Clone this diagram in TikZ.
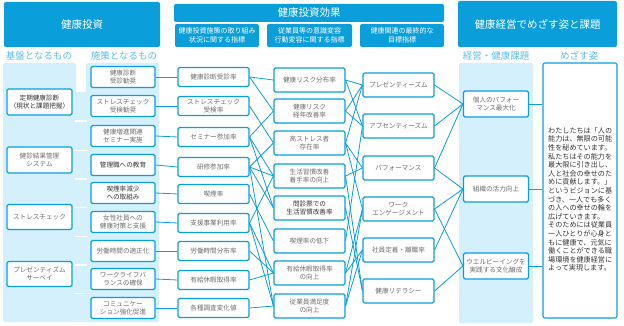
\documentclass[tikz,border=0pt]{standalone}
\usepackage{fontspec}
\newfontfamily\cjk{Noto Sans CJK JP}
\definecolor{hblue}{HTML}{0A9FDB}
\definecolor{lblue}{HTML}{D4F0FC}
\definecolor{tgray}{HTML}{6E6E6E}
\definecolor{tdark}{HTML}{333333}
\definecolor{lbltxt}{HTML}{5CBDE8}
\begin{document}
\begin{tikzpicture}[x=1pt,y=-1pt,
  box/.style={draw=hblue, line width=1.1pt, rounded corners=1.5pt, fill=white, text=tgray,
    font=\cjk\fontsize{6.6}{8.2}\selectfont, align=center, inner sep=0pt},
  dk/.style={text=tdark},
  bcol/.style={box, minimum width=65pt, minimum height=26pt},
  scol/.style={box, minimum width=64pt, minimum height=21pt},
  icol/.style={box, minimum width=71pt, minimum height=19pt},
  mcol/.style={box, minimum width=71pt, minimum height=24pt},
  ccol/.style={box, minimum width=71pt, minimum height=24pt},
  kcol/.style={box, minimum width=65pt, minimum height=26pt},
  hdr/.style={fill=hblue, rounded corners=2pt, text=white, align=center, inner sep=0pt},
  lbl/.style={text=lbltxt, font=\cjk\fontsize{9.5}{11}\selectfont, inner sep=0pt},
  link/.style={draw=hblue, line width=0.8pt}]
\useasboundingbox (0,0) rectangle (624,326);

% headers
\node[hdr, minimum width=156pt, minimum height=45pt, font=\cjk\fontsize{10.5}{12}\selectfont] (h1) at (82,24.5) {健康投資};
\node[hdr, minimum width=270pt, minimum height=18pt, font=\cjk\fontsize{10.5}{12}\selectfont] (h2) at (309,13) {健康投資効果};
\node[hdr, minimum width=84pt, minimum height=23pt, font=\cjk\fontsize{7}{8.8}\selectfont] (h2a) at (217,35.5) {健康投資施策の取り組み\\状況に関する指標};
\node[hdr, minimum width=85pt, minimum height=23pt, font=\cjk\fontsize{7}{8.8}\selectfont] (h2b) at (309.5,35.5) {従業員等の意識変容\\行動変容に関する指標};
\node[hdr, minimum width=84pt, minimum height=23pt, font=\cjk\fontsize{7}{8.8}\selectfont] (h2c) at (402,35.5) {健康関連の最終的な\\目標指標};
\node[hdr, minimum width=159pt, minimum height=46pt, font=\cjk\fontsize{10.5}{12}\selectfont] (h3) at (537.5,24) {健康経営でめざす姿と課題};

% labels
\node[lbl] (l1) at (39,56) {基盤となるもの};
\node[lbl] (l2) at (124,56) {施策となるもの};
\node[lbl] (l3) at (496,56) {経営・健康課題};
\node[lbl] (l4) at (579,56) {めざす姿};

% panels
\fill[lblue, rounded corners=2pt] (3,63) rectangle (76,322);
\fill[lblue, rounded corners=2pt] (86,63) rectangle (159,322);
\fill[lblue] (75,92) rectangle (87,322);
\foreach \yy in {121,150.5,179,207.5,236.5,265,293.5}
  \draw[white, line width=1.5pt] (75,\yy) -- (87,\yy);
\fill[lblue, rounded corners=2pt] (459,63) rectangle (533,323);

% base nodes
\node[bcol, dk] (b1) at (39.5,102) {定期健康診断\\（現状と課題把握）};
\node[bcol] (b2) at (39.5,160) {健診結果管理\\システム};
\node[bcol, minimum height=25pt] (b3) at (39.5,217) {ストレスチェック};
\node[bcol, minimum height=25pt] (b4) at (39.5,274) {プレゼンティズム\\サーベイ};

% measures
\node[scol] (s1) at (123,77) {健康診断\\受診勧奨};
\node[scol] (s2) at (123,106) {ストレスチェック\\受検勧奨};
\node[scol] (s3) at (123,136) {健康増進関連\\セミナー実施};
\node[scol, dk] (s4) at (123,165) {管理職への教育};
\node[scol, dk] (s5) at (123,193) {喫煙率減少\\への取組み};
\node[scol] (s6) at (123,222) {女性社員への\\健康対策と支援};
\node[scol] (s7) at (123,251) {労働時間の適正化};
\node[scol] (s8) at (123,279) {ワークライフバ\\ランスの確保};
\node[scol] (s9) at (123,308) {コミュニケー\\ション強化促進};

% indices
\node[icol] (i1) at (213.5,77) {健康診断受診率};
\node[icol] (i2) at (213.5,106) {ストレスチェック\\受検率};
\node[icol] (i3) at (213.5,137) {セミナー参加率};
\node[icol] (i4) at (213.5,167) {研修参加率};
\node[icol] (i5) at (213.5,194) {喫煙率};
\node[icol] (i6) at (213.5,223) {支援事業利用率};
\node[icol] (i7) at (213.5,251) {労働時間分布率};
\node[icol] (i8) at (213.5,280) {有給休暇取得率};
\node[icol] (i9) at (213.5,308) {各種調査変化値};

% middle
\node[mcol] (m1) at (309.5,80) {健康リスク分布率};
\node[mcol] (m2) at (309.5,111) {健康リスク\\経年改善率};
\node[mcol] (m3) at (309.5,143) {高ストレス者\\存在率};
\node[mcol] (m4) at (309.5,176) {生活習慣改善\\着手率の向上};
\node[mcol, dk] (m5) at (309.5,208) {問診票での\\生活習慣改善率};
\node[mcol] (m6) at (309.5,241) {喫煙率の低下};
\node[mcol] (m7) at (309.5,273) {有給休暇取得率\\の向上};
\node[mcol] (m8) at (309.5,306) {従業員満足度\\の向上};

% final
\node[ccol] (c1) at (398.5,85) {プレゼンティーズム};
\node[ccol] (c2) at (398.5,126) {アブセンティーズム};
\node[ccol] (c3) at (398.5,168) {パフォーマンス};
\node[ccol] (c4) at (398.5,209) {ワーク\\エンゲージメント};
\node[ccol] (c5) at (398.5,250) {社員定着・離職率};
\node[ccol] (c6) at (398.5,291) {健康リテラシー};

% issues
\node[kcol] (k1) at (496,104) {個人のパフォー\\マンス最大化};
\node[kcol] (k2) at (496,189) {組織の活力向上};
\node[kcol] (k3) at (496,266) {ウエルビーイングを\\実践する文化醸成};

% vision
\node[draw=hblue, line width=1.1pt, rounded corners=2pt, minimum width=74pt, minimum height=255pt, inner sep=0pt] (vis) at (580,190.5) {};
\node[text=tdark, font=\cjk\fontsize{7.1}{8.6}\selectfont, align=left, inner sep=0pt, anchor=north west] (vtext) at (548,127) {わたしたちは「人の\\能力は、無限の可能\\性を秘めています。\\私たちはその能力を\\最大限に引き出し、\\人と社会の幸せのた\\めに貢献します。」\\というビジョンに基\\づき、一人でも多く\\の人への幸せの輪を\\広げていきます。\\そのためには従業員\\一人ひとりが心身と\\もに健康で、元気に\\働くことができる職\\場環境を健康経営に\\よって実現します。};

% connectors: measures -> indices
\foreach \n in {1,...,9} \draw[link] (s\n.east) -- (i\n.west);

% indices -> middle
\foreach \a/\b in {1/1,1/2,2/3,3/2,3/4,3/5,4/3,4/4,4/5,4/8,5/6,6/4,6/7,6/8,7/7,8/7,9/8}
  \draw[link] (i\a.east) -- (m\b.west);

% middle -> final
\foreach \a/\b in {1/1,1/2,2/1,2/2,3/1,3/3,3/4,4/3,4/6,5/6,6/2,7/4,7/5,8/4,8/5}
  \draw[link] (m\a.east) -- (c\b.west);

% final -> issues
\foreach \a/\b in {1/1,2/1,3/1,3/2,4/2,4/3,5/2,6/3}
  \draw[link] (c\a.east) -- (k\b.west);

% issues -> vision
\foreach \n in {1,2,3} \draw[link] (k\n.east) -- (k\n.east -| vis.west);
\end{tikzpicture}
\end{document}
